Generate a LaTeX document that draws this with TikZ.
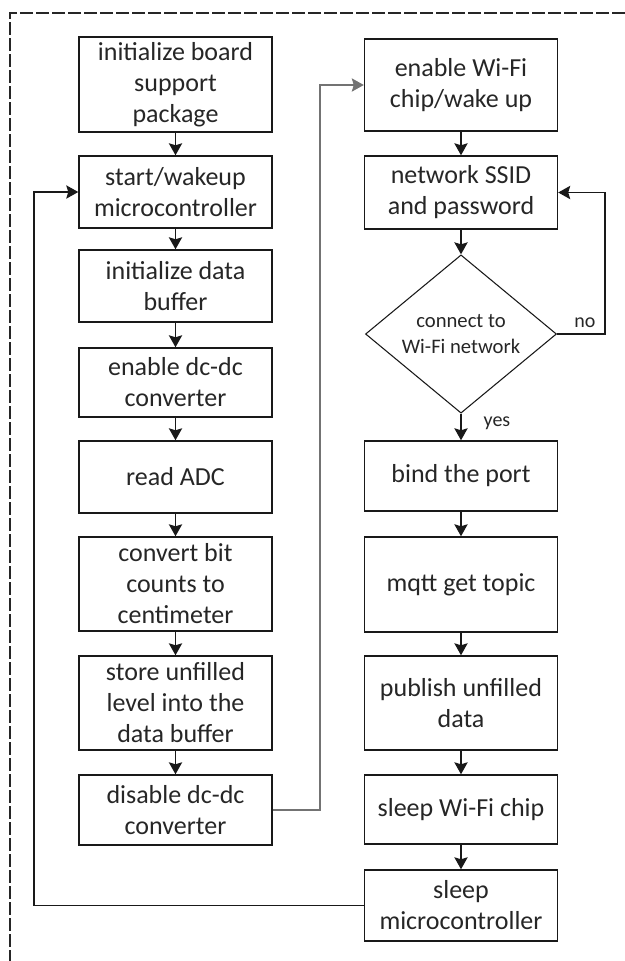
\documentclass[tikz,border=0pt]{standalone}
\usepackage{fontspec}
\setmainfont{Carlito}
\usetikzlibrary{shapes.geometric,arrows.meta}
\begin{document}
\begin{tikzpicture}[x=0.75pt,y=-0.75pt,
  every node/.style={text=black!85},
  stepbox/.style={draw=black!90, line width=1.1pt, minimum width=144.75pt,
    minimum height={#1*0.75pt}, inner sep=0pt, align=center,
    font=\fontsize{19.5}{23.25}\selectfont},
  decision/.style={draw=black!90, diamond, line width=0.8pt, minimum width=143.25pt,
    minimum height=106.5pt, inner sep=0pt, align=center,
    font=\fontsize{15.5}{20}\selectfont},
  flow/.style={line width=0.9pt, draw=black!90,
    -{Stealth[length=9pt,width=10pt,inset=1.5pt]}},
  lbl/.style={font=\fontsize{15}{18}\selectfont, inner sep=0pt}]
\useasboundingbox (0,0) rectangle (625,961);

% dashed frame (top and left edges)
\draw[line width=1.1pt, black!85, dash pattern=on 9.5pt off 2.5pt] (625,13) -- (10,13) -- (10,961);

% left column
\node[stepbox=95] (b1) at (175.5,84.5) {initialize board\\support\\package};
\node[stepbox=72] (b2) at (175.5,192) {start/wakeup\\microcontroller};
\node[stepbox=72] (b3) at (175.5,286) {initialize data\\buffer};
\node[stepbox=69] (b4) at (175.5,382.5) {enable dc-dc\\converter};
\node[stepbox=72] (b5) at (175.5,477) {read ADC};
\node[stepbox=94] (b6) at (175.5,584) {convert bit\\counts to\\centimeter};
\node[stepbox=94] (b7) at (175.5,703) {store unfilled\\level into the\\data buffer};
\node[stepbox=70] (b8) at (175.5,810) {disable dc-dc\\converter};

% right column
\node[stepbox=92] (r1) at (461,85) {enable Wi-Fi\\chip/wake up};
\node[stepbox=73] (r2) at (461,192.5) {network SSID\\and password};
\node[decision] (d) at (461,334) {connect to\\Wi-Fi network};
\node[stepbox=70] (r3) at (461,476) {bind the port};
\node[stepbox=95] (r4) at (461,584.5) {mqtt get topic};
\node[stepbox=94] (r5) at (461,703) {publish unfilled\\data};
\node[stepbox=69] (r6) at (461,809.5) {sleep Wi-Fi chip};
\node[stepbox=71] (r7) at (461,905.5) {sleep\\microcontroller};

% straight flow arrows
\foreach \a/\b in {b1/b2,b2/b3,b3/b4,b4/b5,b5/b6,b6/b7,b7/b8,
                   r1/r2,r2/d,r3/r4,r4/r5,r5/r6,r6/r7}
  \draw[flow] (\a.south) -- (\b.north);
\draw[flow] (d.south) -- (r3.north);
\node[lbl] (yes) at (497,423) {yes};

% retry branch
\coordinate (jno) at (605,334);
\draw[flow] (d.east) -- (jno) |- (r2.east);
\node[lbl] (no) at (585,323) {no};

% hand-over to the Wi-Fi column
\coordinate (jwifi) at (320,810);
\draw[flow, draw=black!55] (b8.east) -- (jwifi) |- (r1.west);

% loop back to wake-up
\coordinate (jloop) at (34,905.5);
\draw[flow] (r7.west) -- (jloop) |- (b2.west);
\end{tikzpicture}
\end{document}
